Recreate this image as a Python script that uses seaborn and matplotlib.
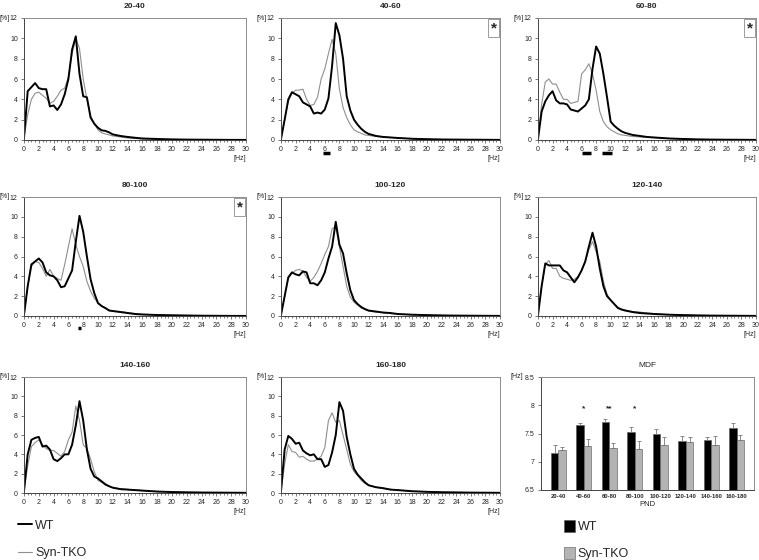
import matplotlib
matplotlib.use("Agg")
import matplotlib.pyplot as plt
import seaborn as sns
import pandas as pd
from matplotlib.lines import Line2D
from matplotlib.patches import Patch

sns.set_style("white")
plt.rcParams['font.family'] = ['Liberation Sans', 'DejaVu Sans']

############################
########### data ###########
############################

freq = [0, 0.5, 1, 1.5, 2, 2.5, 3, 3.5, 4, 4.5, 5, 5.5, 6, 6.5, 7, 7.5, 8, 8.5, 9, 9.5,
        10, 10.5, 11, 11.5, 12, 13, 14, 15, 16, 18, 20, 22, 24, 26, 28, 30]

wt_20_40 = [0.2, 4.8, 5.2, 5.6, 5.1, 5.0, 5.0, 3.3, 3.4, 2.95, 3.5, 4.5, 6.0, 8.9, 10.2, 6.5, 4.3, 4.2, 2.2, 1.6,
            1.2, 0.95, 0.9, 0.75, 0.55, 0.4, 0.3, 0.22, 0.15, 0.1, 0.06, 0.04, 0.03, 0.02, 0.01, 0.01]
ko_20_40 = [0.2, 2.5, 4.0, 4.6, 4.7, 4.4, 4.1, 3.6, 3.8, 4.3, 4.9, 5.1, 6.2, 8.5, 10.0, 9.0, 6.0, 4.0, 2.4, 1.6,
            1.0, 0.7, 0.6, 0.5, 0.4, 0.3, 0.2, 0.15, 0.1, 0.07, 0.05, 0.03, 0.02, 0.02, 0.01, 0.01]

wt_40_60 = [0.1, 2.0, 4.0, 4.7, 4.5, 4.3, 3.7, 3.5, 3.3, 2.6, 2.7, 2.6, 3.0, 4.1, 7.3, 11.5, 10.3, 8.0, 4.3, 2.9,
            2.0, 1.5, 1.1, 0.8, 0.6, 0.4, 0.3, 0.25, 0.2, 0.12, 0.08, 0.05, 0.04, 0.03, 0.02, 0.01]
ko_40_60 = [0.1, 2.0, 3.8, 4.6, 4.9, 4.9, 5.0, 4.0, 3.4, 3.5, 4.2, 6.0, 7.0, 8.5, 9.9, 8.5, 5.0, 3.2, 2.2, 1.5,
            1.0, 0.8, 0.65, 0.5, 0.45, 0.35, 0.3, 0.25, 0.2, 0.12, 0.08, 0.05, 0.03, 0.02, 0.01, 0.01]

wt_60_80 = [0.1, 2.8, 3.8, 4.4, 4.8, 3.9, 3.6, 3.6, 3.5, 3.0, 2.9, 2.8, 3.1, 3.4, 4.0, 7.0, 9.2, 8.5, 6.5, 4.2,
            1.8, 1.4, 1.1, 0.85, 0.7, 0.5, 0.4, 0.3, 0.25, 0.15, 0.1, 0.06, 0.04, 0.03, 0.02, 0.01]
ko_60_80 = [0.1, 3.5, 5.7, 6.0, 5.5, 5.5, 4.7, 4.0, 4.0, 3.6, 3.7, 3.8, 6.5, 6.9, 7.5, 6.5, 4.9, 2.8, 1.8, 1.3,
            1.0, 0.8, 0.6, 0.5, 0.45, 0.35, 0.3, 0.25, 0.22, 0.15, 0.1, 0.06, 0.04, 0.02, 0.01, 0.01]

wt_80_100 = [0.1, 3.0, 5.2, 5.5, 5.8, 5.4, 4.4, 4.1, 4.0, 3.6, 2.9, 3.0, 3.8, 4.6, 7.5, 10.1, 8.5, 6.0, 3.7, 2.3,
             1.3, 1.0, 0.8, 0.55, 0.5, 0.4, 0.3, 0.2, 0.15, 0.1, 0.07, 0.05, 0.03, 0.02, 0.01, 0.01]
ko_80_100 = [0.1, 3.0, 5.0, 5.5, 5.4, 4.8, 4.0, 4.7, 4.0, 3.8, 3.6, 5.2, 7.0, 8.8, 7.2, 6.0, 5.0, 3.5, 2.5, 1.8,
             1.3, 1.0, 0.8, 0.6, 0.5, 0.45, 0.35, 0.25, 0.18, 0.12, 0.08, 0.05, 0.03, 0.02, 0.01, 0.01]

wt_100_120 = [0.1, 2.0, 3.9, 4.4, 4.2, 4.1, 4.5, 4.4, 3.3, 3.3, 3.1, 3.6, 4.4, 5.8, 7.0, 9.5, 7.2, 6.3, 4.3, 2.6,
              1.6, 1.2, 0.9, 0.7, 0.55, 0.45, 0.35, 0.3, 0.2, 0.13, 0.09, 0.06, 0.04, 0.03, 0.02, 0.01]
ko_100_120 = [0.1, 2.0, 3.8, 4.3, 4.6, 4.7, 4.5, 3.9, 3.5, 3.9, 4.5, 5.3, 6.2, 7.0, 8.8, 9.0, 7.0, 5.0, 3.0, 1.9,
              1.4, 1.1, 0.8, 0.65, 0.5, 0.4, 0.32, 0.25, 0.2, 0.12, 0.08, 0.05, 0.03, 0.02, 0.01, 0.01]

wt_120_140 = [0.1, 3.0, 5.3, 5.1, 5.1, 5.1, 5.1, 4.6, 4.4, 3.9, 3.4, 3.9, 4.6, 5.5, 7.0, 8.4, 7.0, 4.8, 3.0, 2.0,
              1.6, 1.2, 0.8, 0.65, 0.55, 0.4, 0.3, 0.25, 0.2, 0.13, 0.09, 0.06, 0.04, 0.03, 0.02, 0.01]
ko_120_140 = [0.1, 3.0, 5.2, 5.6, 4.8, 4.8, 4.0, 3.8, 3.7, 3.6, 3.7, 4.0, 4.6, 5.5, 6.7, 7.5, 6.5, 5.5, 3.5, 2.2,
              1.6, 1.2, 0.9, 0.7, 0.6, 0.45, 0.4, 0.3, 0.25, 0.15, 0.1, 0.06, 0.04, 0.03, 0.02, 0.01]

wt_140_160 = [0.2, 4.0, 5.5, 5.7, 5.8, 4.8, 4.9, 4.5, 3.5, 3.3, 3.6, 4.0, 4.0, 5.0, 7.0, 9.5, 7.5, 4.5, 2.5, 1.7,
              1.5, 1.2, 0.9, 0.7, 0.55, 0.4, 0.35, 0.3, 0.25, 0.15, 0.1, 0.07, 0.05, 0.04, 0.03, 0.02]
ko_140_160 = [0.2, 2.8, 4.8, 5.2, 5.5, 5.0, 4.6, 4.4, 4.4, 4.1, 3.8, 4.3, 5.5, 6.3, 9.0, 7.5, 5.0, 4.6, 3.5, 2.2,
              1.3, 1.1, 0.8, 0.7, 0.55, 0.45, 0.38, 0.3, 0.25, 0.15, 0.1, 0.07, 0.05, 0.04, 0.03, 0.02]

wt_160_180 = [0.2, 4.5, 5.9, 5.6, 5.1, 5.2, 4.4, 4.1, 3.9, 4.0, 3.5, 3.5, 2.7, 2.9, 4.2, 6.0, 9.4, 8.5, 5.8, 4.0,
              2.5, 1.9, 1.5, 1.1, 0.8, 0.6, 0.5, 0.35, 0.3, 0.18, 0.12, 0.08, 0.06, 0.04, 0.03, 0.02]
ko_160_180 = [0.2, 3.0, 5.0, 4.3, 4.2, 3.7, 3.8, 3.5, 3.3, 3.3, 3.5, 3.8, 4.7, 7.5, 8.3, 7.3, 7.5, 6.0, 4.5, 3.0,
              2.2, 1.8, 1.3, 1.0, 0.8, 0.6, 0.45, 0.38, 0.3, 0.2, 0.13, 0.08, 0.06, 0.04, 0.03, 0.02]

ages = ['20-40', '40-60', '60-80', '80-100', '100-120', '120-140', '140-160', '160-180']
wt_spectra = [wt_20_40, wt_40_60, wt_60_80, wt_80_100, wt_100_120, wt_120_140, wt_140_160, wt_160_180]
ko_spectra = [ko_20_40, ko_40_60, ko_60_80, ko_80_100, ko_100_120, ko_120_140, ko_140_160, ko_160_180]

# significant frequency ranges (Hz) and boxed asterisk per age
sig_ranges = {'40-60': [(5.75, 6.75)], '60-80': [(6.0, 7.25), (8.75, 10.25)], '80-100': [(7.25, 7.75)]}
star_box = ['40-60', '60-80', '80-100']

# MDF bar chart
mdf_wt = [7.15, 7.65, 7.70, 7.52, 7.49, 7.37, 7.39, 7.59]
mdf_ko = [7.20, 7.28, 7.25, 7.23, 7.30, 7.35, 7.29, 7.38]
mdf_wt_err = [0.15, 0.04, 0.05, 0.09, 0.09, 0.09, 0.05, 0.09]
mdf_ko_err = [0.06, 0.12, 0.08, 0.14, 0.13, 0.08, 0.16, 0.10]
mdf_stars = ['', '*', '**', '*', '', '', '', '']

############################
########## layout ##########
############################

W, H = 759, 560
fig = plt.figure(figsize=(W / 100, H / 100), dpi=100)

def px_axes(x0, y0, x1, y1):
    return fig.add_axes([x0 / W, 1 - y1 / H, (x1 - x0) / W, (y1 - y0) / H])

cols = [(24, 246), (281, 500), (538, 756)]
rows = [(18, 140), (197, 316), (377, 493)]

WT_COLOR = 'black'
KO_COLOR = '#8f8f8f'
FRAME = '#8c8c8c'
TICK_FS = 5

def style_frame(ax):
    for sp in ax.spines.values():
        sp.set_visible(True)
        sp.set_color(FRAME)
        sp.set_linewidth(0.7)
    ax.spines['left'].set_color('#444444')
    ax.spines['bottom'].set_color('#444444')

for k, age in enumerate(ages):
    r, c = divmod(k, 3)
    ax = px_axes(cols[c][0], rows[r][0], cols[c][1], rows[r][1])
    sns.lineplot(x=freq, y=ko_spectra[k], color=KO_COLOR, linewidth=0.8, ax=ax)
    sns.lineplot(x=freq, y=wt_spectra[k], color=WT_COLOR, linewidth=1.4, ax=ax)
    ax.set_xlim(0, 30)
    ax.set_ylim(0, 12)
    ax.set_xticks(range(0, 31, 2))
    ax.set_xticks([i * 0.5 for i in range(61)], minor=True)
    ax.set_yticks(range(0, 13, 2))
    ax.tick_params(axis='both', which='major', labelsize=TICK_FS, length=2, width=0.5,
                   color='#444444', pad=2.5, bottom=True, left=True)
    ax.tick_params(axis='x', which='minor', length=1.5, width=0.5, color='#444444', bottom=True)
    style_frame(ax)
    ax.set_title(age, fontsize=6, fontweight='bold', pad=7)
    ax.annotate('[%]', xy=(0, 1), xycoords='axes fraction', xytext=(-10, 0), textcoords='offset points',
                ha='right', va='center', fontsize=TICK_FS)
    ax.annotate('[Hz]', xy=(1, 0), xycoords='axes fraction', xytext=(0, -13.5), textcoords='offset points',
                ha='right', va='center', fontsize=TICK_FS)
    for a, b in sig_ranges.get(age, []):
        ax.hlines(-0.105, a, b, transform=ax.get_xaxis_transform(), color='black', lw=2.5, clip_on=False)
    if age in star_box:
        ax.text(0.985, 0.975, '*', transform=ax.transAxes, ha='right', va='top', fontsize=11,
                fontweight='bold', bbox=dict(boxstyle='square,pad=0.15', fc='white', ec=FRAME, lw=0.6))

# MDF panel
ax = px_axes(541, 377, 754, 490)
df = pd.DataFrame({'PND': ages * 2, 'MDF': mdf_wt + mdf_ko,
                   'group': ['WT'] * len(ages) + ['Syn-TKO'] * len(ages)})
sns.barplot(data=df, x='PND', y='MDF', hue='group', palette=[WT_COLOR, '#b3b3b3'], width=0.6,
            edgecolor='#555555', linewidth=0.4, legend=False, ax=ax)
for cont, err in zip(ax.containers, [mdf_wt_err, mdf_ko_err]):
    xs = [p.get_x() + p.get_width() / 2 for p in cont]
    ys = [p.get_height() for p in cont]
    ax.errorbar(xs, ys, yerr=[[0] * len(err), err], fmt='none', ecolor='#777777', elinewidth=0.6,
                capsize=1.5, capthick=0.6)
for i, s in enumerate(mdf_stars):
    if s:
        ax.text(i, 7.93, s, ha='center', va='center', fontsize=6, fontweight='bold')
ax.set_ylim(6.5, 8.5)
ax.set_yticks([6.5, 7, 7.5, 8, 8.5])
ax.set_yticklabels(['6.5', '7', '7.5', '8', '8.5'])
ax.tick_params(axis='y', labelsize=TICK_FS, length=2, width=0.5, color='#444444', left=True, pad=2.5)
ax.tick_params(axis='x', labelsize=4.2, length=0, pad=3)
for lab in ax.get_xticklabels():
    lab.set_fontweight('bold')
ax.set_xlabel('PND', fontsize=5.5, labelpad=1)
ax.set_ylabel('')
style_frame(ax)
ax.set_title('MDF', fontsize=6, pad=7)
ax.annotate('[Hz]', xy=(0, 1), xycoords='axes fraction', xytext=(-13, 0), textcoords='offset points',
            ha='right', va='center', fontsize=TICK_FS)

# legends
line_handles = [Line2D([], [], color=WT_COLOR, lw=1.4), Line2D([], [], color=KO_COLOR, lw=0.8)]
fig.legend(line_handles, ['WT', 'Syn-TKO'], loc='upper left', bbox_to_anchor=(14 / W, 1 - 516 / H),
           frameon=False, fontsize=9, handlelength=1.1, handletextpad=0.3, labelspacing=1.24,
           borderaxespad=0, borderpad=0.3)
bar_handles = [Patch(fc=WT_COLOR, ec='#555555', lw=0.4), Patch(fc='#b3b3b3', ec='#555555', lw=0.4)]
fig.legend(bar_handles, ['WT', 'Syn-TKO'], loc='upper left', bbox_to_anchor=(560 / W, 1 - 516 / H),
           frameon=False, fontsize=9, handlelength=0.9, handleheight=1.1, handletextpad=0.2, labelspacing=1.14,
           borderaxespad=0, borderpad=0.3)

fig.savefig('out.png', dpi=100)
